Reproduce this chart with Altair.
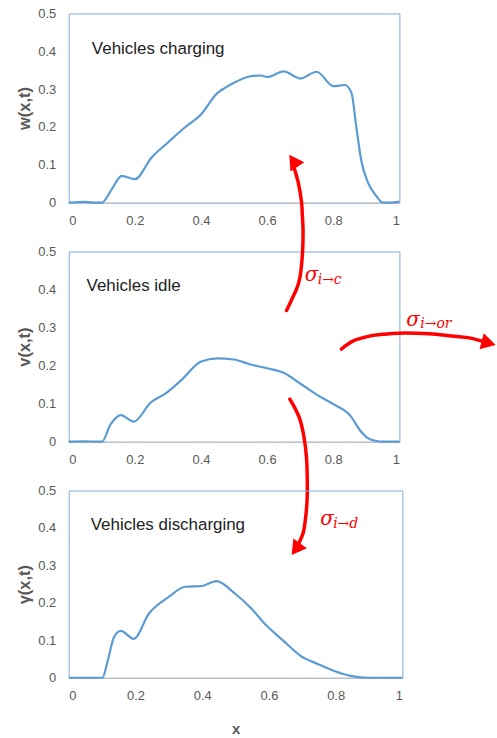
import altair as alt
import pandas as pd

# ---------------- data ----------------
x_w = [0, 0.05, 0.08, 0.1, 0.13, 0.16, 0.2, 0.25, 0.3, 0.35, 0.4, 0.45, 0.47, 0.5,
       0.55, 0.58, 0.6, 0.65, 0.7, 0.75, 0.8, 0.835, 0.855, 0.87, 0.885, 0.905, 0.93,
       0.95, 0.97, 1.0]
w_vals = [0, 0.002, 0, 0, 0.035, 0.071, 0.062, 0.119, 0.159, 0.198, 0.233, 0.290, 0.302,
          0.317, 0.334, 0.336, 0.332, 0.347, 0.328, 0.346, 0.308, 0.311, 0.29, 0.198,
          0.11, 0.053, 0.018, 0, 0, 0.003]

x_v = [0, 0.05, 0.08, 0.1, 0.127, 0.157, 0.197, 0.248, 0.293, 0.343, 0.399, 0.449, 0.499,
       0.55, 0.6, 0.65, 0.7, 0.751, 0.8, 0.852, 0.882, 0.902, 0.93, 0.95, 1.0]
v_vals = [0, 0.001, 0, 0, 0.046, 0.07, 0.053, 0.103, 0.127, 0.164, 0.21, 0.219, 0.216,
          0.203, 0.193, 0.181, 0.153, 0.123, 0.099, 0.068, 0.029, 0.011, 0.002, 0, 0]

x_g = [0, 0.05, 0.08, 0.101, 0.116, 0.136, 0.156, 0.195, 0.24, 0.30, 0.349, 0.399, 0.443,
       0.498, 0.543, 0.592, 0.642, 0.696, 0.746, 0.796, 0.845, 0.9, 1.0]
g_vals = [0, 0, 0, 0, 0.042, 0.109, 0.125, 0.104, 0.171, 0.216, 0.243, 0.245, 0.258,
          0.225, 0.189, 0.14, 0.10, 0.058, 0.037, 0.018, 0.005, 0, 0]

panel_titles = ["Vehicles charging", "Vehicles idle", "Vehicles discharging"]
panel_title_x = [0.07, 0.054, 0.066]
panel_title_y = [0.393, 0.395, 0.394]
y_titles = ["w(x,t)", "v(x,t)", "γ(x,t)"]
x_ticks = [0, 0.2, 0.4, 0.6, 0.8, 1]
y_ticks = [0, 0.1, 0.2, 0.3, 0.4, 0.5]

# annotation arrows, in the data coordinates of the middle panel
arrow_c_x = [0.6587, 0.6747, 0.6898, 0.6988, 0.7063, 0.7087, 0.7063, 0.7039, 0.6937, 0.6786, 0.6762]
arrow_c_y = [0.3448, 0.3743, 0.4031, 0.4301, 0.4869, 0.5524, 0.5995, 0.6309, 0.6832, 0.7277, 0.7330]
arrow_d_x = [0.6687, 0.6837, 0.6988, 0.7108, 0.7190, 0.7214, 0.7208, 0.7154, 0.7087, 0.6958, 0.6889]
arrow_d_y = [0.1118, 0.0890, 0.0602, 0.0157, -0.0411, -0.1021, -0.1545, -0.2068, -0.2408, -0.2670, -0.2801]
arrow_o_x = [0.8244, 0.8593, 0.9096, 0.9548, 1.0, 1.0904, 1.1506, 1.2108, 1.2560]
arrow_o_y = [0.2435, 0.2644, 0.2775, 0.2827, 0.2853, 0.2835, 0.2788, 0.2730, 0.2631]
head_x = [0.6792, 0.6870, 1.2699]
head_y = [0.7382, -0.2827, 0.2592]
head_angle = [326, 216, 105]

sigma_x = [0.7139, 1.0211, 0.7605]
sigma_y = [0.4215, 0.3037, -0.2199]
sub_x = [0.7530, 1.0633, 0.7997]
sub_y = [0.4136, 0.2984, -0.2277]
sub_text = ["i→c", "i→or", "i→d"]

# ---------------- styling ----------------
BLUE = "#5B9BD5"
RED = "#FF0000"
GRAY = "#595959"
FONT = "Liberation Sans"

heights = [190, 191, 188]
widths = [332, 332, 335]


def encodings(ytitle, show_xtitle):
    xe = alt.X(
        "x:Q",
        scale=alt.Scale(domain=[0, 1], nice=False, zero=False),
        axis=alt.Axis(values=x_ticks, format="~g", grid=False, ticks=False,
                      domainColor="#BFBFBF", domainWidth=1,
                      labelColor=GRAY, labelFontSize=13, labelFont=FONT,
                      labelPadding=12,
                      title="x" if show_xtitle else None,
                      titleFont=FONT, titleFontSize=15, titleFontWeight="bold",
                      titleColor=GRAY, titlePadding=19),
    )
    ye = alt.Y(
        "y:Q",
        scale=alt.Scale(domain=[0, 0.5], nice=False, zero=False),
        axis=alt.Axis(values=y_ticks, format="~g", grid=False, ticks=False, domain=False,
                      labelColor=GRAY, labelFontSize=13, labelFont=FONT,
                      labelPadding=13,
                      title=ytitle, titleFont=FONT, titleFontSize=16.5,
                      titleFontWeight="bold", titleColor=GRAY, titlePadding=5),
    )
    return xe, ye


def panel(i, xs, ys, extra=None):
    xe, ye = encodings(y_titles[i], i == 2)
    df = pd.DataFrame({"x": xs, "y": ys})
    line = alt.Chart(df).mark_line(color=BLUE, strokeWidth=2.2, interpolate="monotone").encode(x=xe, y=ye)
    lab = pd.DataFrame({"x": [panel_title_x[i]], "y": [panel_title_y[i]], "t": [panel_titles[i]]})
    txt = alt.Chart(lab).mark_text(align="left", baseline="alphabetic", font=FONT,
                                   fontSize=17, color="#222222").encode(x=xe, y=ye, text="t:N")
    layers = [line, txt]
    if extra is not None:
        layers += extra(xe, ye)
    return alt.layer(*layers).properties(width=widths[i], height=heights[i])


def arrows(xe, ye):
    rows = []
    for name, ax, ay in (("c", arrow_c_x, arrow_c_y), ("d", arrow_d_x, arrow_d_y),
                         ("o", arrow_o_x, arrow_o_y)):
        for k, (a, b) in enumerate(zip(ax, ay)):
            rows.append({"x": a, "y": b, "arrow": name, "k": k})
    adf = pd.DataFrame(rows)
    lines = alt.Chart(adf).mark_line(color=RED, strokeWidth=3.5, interpolate="catmull-rom",
                                     strokeCap="round").encode(
        x=xe, y=ye, detail="arrow:N", order=alt.Order("k:Q"))
    hdf = pd.DataFrame({"x": head_x, "y": head_y, "a": head_angle})
    heads = alt.Chart(hdf).mark_point(shape="triangle-up", filled=True, color=RED,
                                      opacity=1, size=280).encode(
        x=xe, y=ye, angle=alt.Angle("a:Q", scale=None))
    sdf = pd.DataFrame({"x": sigma_x, "y": sigma_y, "t": ["σ"] * 3})
    sig = alt.Chart(sdf).mark_text(align="left", baseline="alphabetic", font="DejaVu Serif",
                                   fontStyle="italic", fontSize=20, color=RED).encode(
        x=xe, y=ye, text="t:N")
    bdf = pd.DataFrame({"x": sub_x, "y": sub_y, "t": sub_text})
    sub = alt.Chart(bdf).mark_text(align="left", baseline="alphabetic", font="DejaVu Serif",
                                   fontStyle="italic", fontSize=14, color=RED).encode(
        x=xe, y=ye, text="t:N")
    return [lines, heads, sig, sub]


p1 = panel(0, x_w, w_vals)
p2 = panel(1, x_v, v_vals, extra=arrows)
p3 = panel(2, x_g, g_vals)

chart = alt.vconcat(p1, p2, p3, spacing=49, bounds="flush").properties(
    padding={"left": 16, "top": 5, "right": 0, "bottom": 5},
    background="white",
).configure_view(stroke="#7EA9DC", strokeWidth=1)

chart.save("out.html", embed_options={"renderer": "svg", "actions": False})
